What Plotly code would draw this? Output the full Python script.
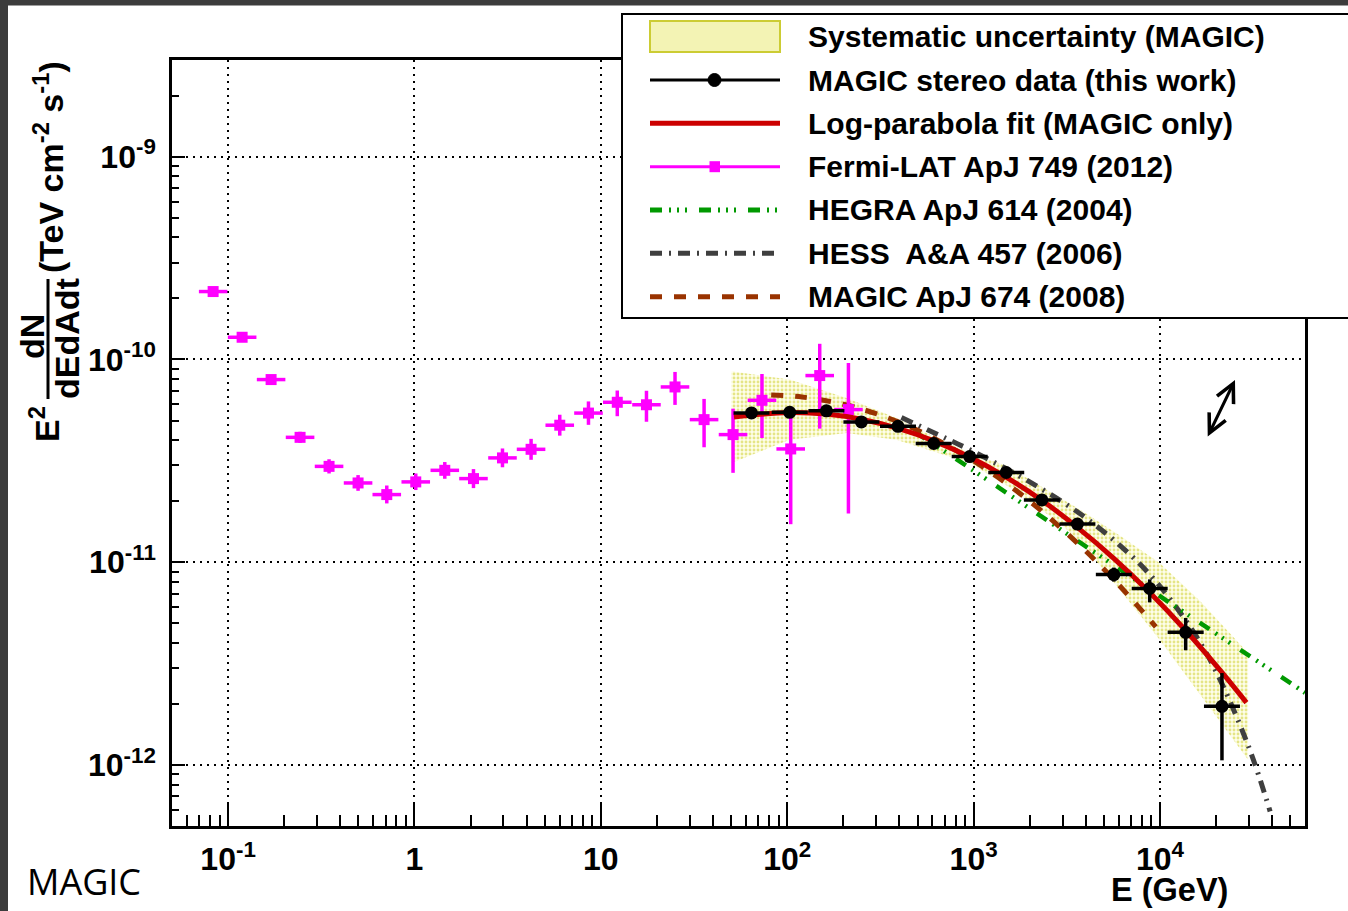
import plotly.graph_objects as go

# ---------------- data ----------------
# Fermi-LAT ApJ 749 (2012)  -- energies in GeV, E^2 dN/dE in TeV cm^-2 s^-1
fermi_E = [0.0831, 0.1189, 0.1701, 0.2433, 0.3481, 0.4981, 0.7102, 1.016, 1.454, 2.073, 2.966, 4.223,
           6.019, 8.582, 12.25, 17.57, 25.0, 35.8, 51.2, 73.2, 104.4, 149.4, 213.0]
fermi_E_lo = [0.0697, 0.0997, 0.1426, 0.2039, 0.2917, 0.4175, 0.5952, 0.8515, 1.219, 1.737, 2.486, 3.539,
              5.045, 7.193, 10.27, 14.73, 20.95, 30.0, 42.91, 61.35, 87.5, 125.2, 178.5]
fermi_E_hi = [0.0991, 0.1419, 0.2029, 0.2903, 0.4153, 0.5943, 0.8473, 1.212, 1.735, 2.473, 3.539, 5.038,
              7.181, 10.24, 14.62, 20.96, 29.83, 42.71, 61.09, 87.33, 124.6, 178.2, 254.1]
fermi_F = [2.163e-10, 1.287e-10, 7.96e-11, 4.13e-11, 2.97e-11, 2.46e-11, 2.156e-11, 2.49e-11, 2.84e-11,
           2.585e-11, 3.27e-11, 3.605e-11, 4.74e-11, 5.44e-11, 6.15e-11, 5.98e-11, 7.32e-11, 5.05e-11,
           4.26e-11, 6.29e-11, 3.62e-11, 8.33e-11, 5.66e-11]
fermi_F_lo = [2.09e-10, 1.245e-10, 7.65e-11, 3.88e-11, 2.74e-11, 2.25e-11, 1.95e-11, 2.27e-11, 2.58e-11,
              2.32e-11, 2.94e-11, 3.20e-11, 4.21e-11, 4.76e-11, 5.25e-11, 4.93e-11, 5.97e-11, 3.69e-11,
              2.76e-11, 4.10e-11, 1.54e-11, 4.56e-11, 1.74e-11]
fermi_F_hi = [2.24e-10, 1.33e-10, 8.28e-11, 4.40e-11, 3.22e-11, 2.69e-11, 2.39e-11, 2.74e-11, 3.12e-11,
              2.88e-11, 3.64e-11, 4.06e-11, 5.34e-11, 6.21e-11, 7.03e-11, 7.01e-11, 8.68e-11, 6.39e-11,
              5.72e-11, 8.48e-11, 5.45e-11, 1.195e-10, 9.62e-11]

# MAGIC stereo data (this work)
magic_E = [64.3, 103.1, 162.3, 250.0, 393.0, 610.9, 952.9, 1496, 2325, 3605, 5656, 8808, 13737, 21508]
magic_E_lo = [51.5, 82.5, 129.9, 200.2, 314.6, 489.1, 762.9, 1198, 1861, 2886, 4528, 7052, 10998, 17220]
magic_E_hi = [80.3, 128.8, 202.7, 312.3, 490.9, 763.0, 1190, 1869, 2904, 4503, 7064, 11001, 17158, 26864]
magic_F = [5.45e-11, 5.49e-11, 5.58e-11, 4.92e-11, 4.68e-11, 3.85e-11, 3.32e-11, 2.77e-11, 2.03e-11,
           1.542e-11, 8.69e-12, 7.43e-12, 4.51e-12, 1.946e-12]
magic_F_lo = [5.26e-11, 5.30e-11, 5.39e-11, 4.75e-11, 4.52e-11, 3.72e-11, 3.20e-11, 2.67e-11, 1.94e-11,
              1.455e-11, 8.02e-12, 6.34e-12, 3.68e-12, 1.054e-12]
magic_F_hi = [5.64e-11, 5.68e-11, 5.77e-11, 5.09e-11, 4.84e-11, 3.98e-11, 3.44e-11, 2.87e-11, 2.12e-11,
              1.63e-11, 9.41e-12, 8.23e-12, 5.31e-12, 2.84e-12]

# Log-parabola fit (MAGIC only)
fit_E = [51.8, 103, 162, 250, 393, 611, 953, 1500, 2340, 3590, 5670, 8810, 13700, 21500, 29100]
fit_F = [5.21e-11, 5.48e-11, 5.38e-11, 5.07e-11, 4.57e-11, 3.97e-11, 3.30e-11, 2.62e-11, 2.01e-11,
         1.49e-11, 1.043e-11, 7.09e-12, 4.62e-12, 2.86e-12, 2.03e-12]

# Systematic uncertainty band (MAGIC)
band_E = [50.2, 103, 208, 385, 606, 953, 1500, 2900, 3860, 6080, 9960, 16400, 29700]
band_hi = [8.74e-11, 7.96e-11, 6.46e-11, 5.15e-11, 4.18e-11, 3.46e-11, 2.99e-11, 2.08e-11, 1.78e-11,
           1.356e-11, 9.92e-12, 6.44e-12, 3.57e-12]
band_lo = [3.09e-11, 4.02e-11, 4.34e-11, 4.02e-11, 3.53e-11, 3.09e-11, 2.40e-11, 1.56e-11, 1.22e-11,
           7.32e-12, 4.15e-12, 2.22e-12, 1.06e-12]

# HEGRA ApJ 614 (2004)
hegra_E = [483, 1000, 3000, 10000, 60000]
hegra_F = [4.4e-11, 2.83e-11, 1.43e-11, 6.8e-12, 2.27e-12]

# HESS A&A 457 (2006)
hess_E = [410, 700, 1000, 2000, 4000, 7000, 10000, 15000, 20000, 30000, 39000]
hess_F = [5.17e-11, 4.11e-11, 3.51e-11, 2.49e-11, 1.655e-11, 1.079e-11, 7.61e-12, 4.58e-12, 2.89e-12,
          1.22e-12, 5.9e-13]

# MAGIC ApJ 674 (2008)
m08_E = [82, 120, 200, 300, 500, 1000, 2000, 4000, 6000, 9500]
m08_F = [6.68e-11, 6.53e-11, 6.01e-11, 5.40e-11, 4.48e-11, 3.16e-11, 2.00e-11, 1.134e-11, 7.74e-12, 4.80e-12]

# axes
x_tickvals = [0.1, 1, 10, 100, 1000, 10000]
x_ticktext = ["10<sup>-1</sup>", "1", "10", "10<sup>2</sup>", "10<sup>3</sup>", "10<sup>4</sup>"]
y_tickvals = [1e-12, 1e-11, 1e-10, 1e-9]
y_ticktext = ["10<sup>-12</sup>", "10<sup>-11</sup>", "10<sup>-10</sup>", "10<sup>-9</sup>"]
x_range = [0.05, 6e4]
y_range = [5e-13, 3e-9]

legend_labels = ["Systematic uncertainty (MAGIC)", "MAGIC stereo data (this work)",
                 "Log-parabola fit (MAGIC only)", "Fermi-LAT ApJ 749 (2012)", "HEGRA ApJ 614 (2004)",
                 "HESS  A&amp;A 457 (2006)", "MAGIC ApJ 674 (2008)"]

# ---------------- styling ----------------
W, H = 1348, 911
ML, MR, MT, MB = 172, 43, 60, 85
PW, PH = W - ML - MR, H - MT - MB
FONT = "Liberation Sans"
MAGENTA = "#ff00ff"
RED = "#cc0000"
GREEN = "#009900"
GRAY = "#3f3f3f"
BROWN = "#993300"
DASH_HEGRA = "12px,7px,2px,6px,2px,6px,2px,12px"
DASH_HESS = "12px,7px,2px,7px"
DASH_M08 = "12px,12px"


def pxx(x):
    return (x - ML) / PW


def pxy(y):
    return (MT + PH - y) / PH


fig = go.Figure()

# systematic band
fig.add_trace(go.Scatter(
    x=band_E + band_E[::-1], y=band_hi + band_lo[::-1], mode="lines", fill="toself",
    line=dict(width=0, color="rgba(0,0,0,0)"), fillcolor="#fdfde6",
    fillpattern=dict(shape=".", bgcolor="#fefeea", fgcolor="#cccc22", size=4, solidity=0.4),
    hoverinfo="skip", showlegend=False))

# reference curves
fig.add_trace(go.Scatter(x=hess_E, y=hess_F, mode="lines", line=dict(color=GRAY, width=5, dash=DASH_HESS,
                                                                       shape="spline"), showlegend=False))
fig.add_trace(go.Scatter(x=hegra_E, y=hegra_F, mode="lines", line=dict(color=GREEN, width=4.5, dash=DASH_HEGRA,
                                                                         shape="spline"), showlegend=False))
fig.add_trace(go.Scatter(x=m08_E, y=m08_F, mode="lines", line=dict(color=BROWN, width=5, dash=DASH_M08,
                                                                     shape="spline"), showlegend=False))

# Fermi points
fig.add_trace(go.Scatter(
    x=fermi_E, y=fermi_F, mode="markers",
    marker=dict(symbol="square", size=11, color=MAGENTA),
    error_x=dict(type="data", symmetric=False,
                 array=[h - e for h, e in zip(fermi_E_hi, fermi_E)],
                 arrayminus=[e - l for e, l in zip(fermi_E, fermi_E_lo)],
                 color=MAGENTA, thickness=3.5, width=0),
    error_y=dict(type="data", symmetric=False,
                 array=[h - f for h, f in zip(fermi_F_hi, fermi_F)],
                 arrayminus=[f - l for f, l in zip(fermi_F, fermi_F_lo)],
                 color=MAGENTA, thickness=3.5, width=0),
    showlegend=False))

# fit
fig.add_trace(go.Scatter(x=fit_E, y=fit_F, mode="lines", line=dict(color=RED, width=5, shape="spline"),
                         showlegend=False))

# MAGIC stereo
fig.add_trace(go.Scatter(
    x=magic_E, y=magic_F, mode="markers",
    marker=dict(symbol="circle", size=13, color="black"),
    error_x=dict(type="data", symmetric=False,
                 array=[h - e for h, e in zip(magic_E_hi, magic_E)],
                 arrayminus=[e - l for e, l in zip(magic_E, magic_E_lo)],
                 color="black", thickness=3.5, width=0),
    error_y=dict(type="data", symmetric=False,
                 array=[h - f for h, f in zip(magic_F_hi, magic_F)],
                 arrayminus=[f - l for f, l in zip(magic_F, magic_F_lo)],
                 color="black", thickness=3.5, width=0),
    showlegend=False))

x_minor = [m * 10 ** d for d in range(-2, 5) for m in range(2, 10) if x_range[0] <= m * 10 ** d <= x_range[1]]
y_minor = [m * 10.0 ** d for d in range(-13, -8) for m in range(2, 10) if y_range[0] <= m * 10.0 ** d <= y_range[1]]

tickfont = dict(family=FONT, size=32, color="black", weight="bold")
fig.update_xaxes(type="log", range=[-1.30103, 4.778151], tickmode="array", tickvals=x_tickvals,
                 ticktext=x_ticktext, tickfont=tickfont, ticks="inside", ticklen=22, tickwidth=2,
                 tickcolor="black", showline=True, linecolor="black", linewidth=2.5, mirror=True,
                 showgrid=True, gridcolor="black", gridwidth=1.6, griddash="2px,5px",
                 ticklabelstandoff=3,
                 minor=dict(tickmode="array", tickvals=x_minor, ticks="inside", ticklen=11, tickwidth=2,
                            tickcolor="black", showgrid=False),
                 zeroline=False)
fig.update_yaxes(type="log", range=[-12.30103, -8.522879], tickmode="array", tickvals=y_tickvals,
                 ticktext=y_ticktext, tickfont=tickfont, ticks="inside", ticklen=13, tickwidth=2,
                 tickcolor="black", showline=True, linecolor="black", linewidth=2.5, mirror=True,
                 showgrid=True, gridcolor="black", gridwidth=1.6, griddash="2px,5px",
                 ticklabelstandoff=7,
                 minor=dict(tickmode="array", tickvals=y_minor, ticks="inside", ticklen=7, tickwidth=2,
                            tickcolor="black", showgrid=False),
                 zeroline=False)

shapes = []
# dark frame of the screenshot
shapes.append(dict(type="rect", xref="paper", yref="paper", x0=pxx(-2), x1=pxx(W + 2), y0=pxy(-2), y1=pxy(5.5),
                   fillcolor="#3c3c3c", line=dict(width=0), layer="above"))
shapes.append(dict(type="rect", xref="paper", yref="paper", x0=pxx(-2), x1=pxx(8), y0=pxy(-2), y1=pxy(H + 2),
                   fillcolor="#3c3c3c", line=dict(width=0), layer="above"))
# legend box
shapes.append(dict(type="rect", xref="paper", yref="paper", x0=pxx(622), x1=pxx(W + 10), y0=pxy(14), y1=pxy(318),
                   fillcolor="white", line=dict(color="black", width=2), layer="above"))
sx0, sx1 = 650, 780
rows = [36.5, 80, 123.3, 166.7, 210, 253.3, 296.7]
shapes.append(dict(type="rect", xref="paper", yref="paper", x0=pxx(sx0), x1=pxx(sx1), y0=pxy(21), y1=pxy(52),
                   fillcolor="#f3f3b4", line=dict(color="#cccc33", width=2), layer="above"))
shapes.append(dict(type="line", xref="paper", yref="paper", x0=pxx(sx0), x1=pxx(sx1), y0=pxy(rows[1]),
                   y1=pxy(rows[1]), line=dict(color="black", width=3), layer="above"))
shapes.append(dict(type="circle", xref="paper", yref="paper", x0=pxx(708), x1=pxx(721), y0=pxy(rows[1] - 6.5),
                   y1=pxy(rows[1] + 6.5), fillcolor="black", line=dict(color="black", width=1), layer="above"))
shapes.append(dict(type="line", xref="paper", yref="paper", x0=pxx(sx0), x1=pxx(sx1), y0=pxy(rows[2]),
                   y1=pxy(rows[2]), line=dict(color=RED, width=5), layer="above"))
shapes.append(dict(type="line", xref="paper", yref="paper", x0=pxx(sx0), x1=pxx(sx1), y0=pxy(rows[3]),
                   y1=pxy(rows[3]), line=dict(color=MAGENTA, width=3), layer="above"))
shapes.append(dict(type="rect", xref="paper", yref="paper", x0=pxx(709.5), x1=pxx(720), y0=pxy(rows[3] - 5.5),
                   y1=pxy(rows[3] + 5.5), fillcolor=MAGENTA, line=dict(width=0), layer="above"))
shapes.append(dict(type="line", xref="paper", yref="paper", x0=pxx(sx0), x1=pxx(sx1), y0=pxy(rows[4]),
                   y1=pxy(rows[4]), line=dict(color=GREEN, width=5, dash=DASH_HEGRA), layer="above"))
shapes.append(dict(type="line", xref="paper", yref="paper", x0=pxx(sx0), x1=pxx(sx1), y0=pxy(rows[5]),
                   y1=pxy(rows[5]), line=dict(color=GRAY, width=5, dash=DASH_HESS), layer="above"))
shapes.append(dict(type="line", xref="paper", yref="paper", x0=pxx(sx0), x1=pxx(sx1), y0=pxy(rows[6]),
                   y1=pxy(rows[6]), line=dict(color=BROWN, width=5, dash=DASH_M08), layer="above"))
# fraction bar of the y title
shapes.append(dict(type="line", xref="paper", yref="paper", x0=pxx(48), x1=pxx(48), y0=pxy(279), y1=pxy(399),
                   line=dict(color="black", width=3), layer="above"))

annotations = []
for r, lab in zip(rows, legend_labels):
    annotations.append(dict(text=lab, xref="paper", yref="paper", x=pxx(806), y=pxy(r), xanchor="left",
                            yanchor="middle", showarrow=False,
                            font=dict(family=FONT, size=30, color="black", weight="bold")))

ytfont = dict(family=FONT, size=34, color="black", weight="bold")
annotations.append(dict(text="E<sup>2</sup>", xref="paper", yref="paper", x=pxx(44), y=pxy(424), textangle=-90,
                        xanchor="center", yanchor="middle", showarrow=False, font=ytfont))
annotations.append(dict(text="dN", xref="paper", yref="paper", x=pxx(32), y=pxy(337), textangle=-90,
                        xanchor="center", yanchor="middle", showarrow=False, font=ytfont))
annotations.append(dict(text="dEdAdt", xref="paper", yref="paper", x=pxx(67), y=pxy(339), textangle=-90,
                        xanchor="center", yanchor="middle", showarrow=False, font=ytfont))
annotations.append(dict(text="(TeV cm<sup>-2</sup> s<sup>-1</sup>)", xref="paper", yref="paper", x=pxx(48),
                        y=pxy(167), textangle=-90, xanchor="center", yanchor="middle", showarrow=False,
                        font=ytfont))
annotations.append(dict(text="E (GeV)", xref="paper", yref="paper", x=pxx(1230), y=pxy(890), xanchor="right",
                        yanchor="middle", showarrow=False, font=dict(family=FONT, size=32.5, color="black",
                                                                      weight="bold")))
annotations.append(dict(text="MAGIC", xref="paper", yref="paper", x=pxx(25), y=pxy(882), xanchor="left",
                        yanchor="middle", showarrow=False,
                        font=dict(family="Open Sans", size=36, color="black")))
annotations.append(dict(text="", xref="paper", yref="paper", x=pxx(1235), y=pxy(380), ax=-28, ay=58,
                        showarrow=True, arrowhead=5, startarrowhead=5, arrowside="end+start", arrowwidth=3,
                        arrowsize=1.2, startarrowsize=1.2, arrowcolor="black", standoff=0, startstandoff=0))

fig.update_layout(width=W, height=H, margin=dict(l=ML, r=MR, t=MT, b=MB, pad=0),
                  paper_bgcolor="white", plot_bgcolor="white", shapes=shapes, annotations=annotations,
                  showlegend=False, font=dict(family=FONT))

fig.write_html("out.html")
